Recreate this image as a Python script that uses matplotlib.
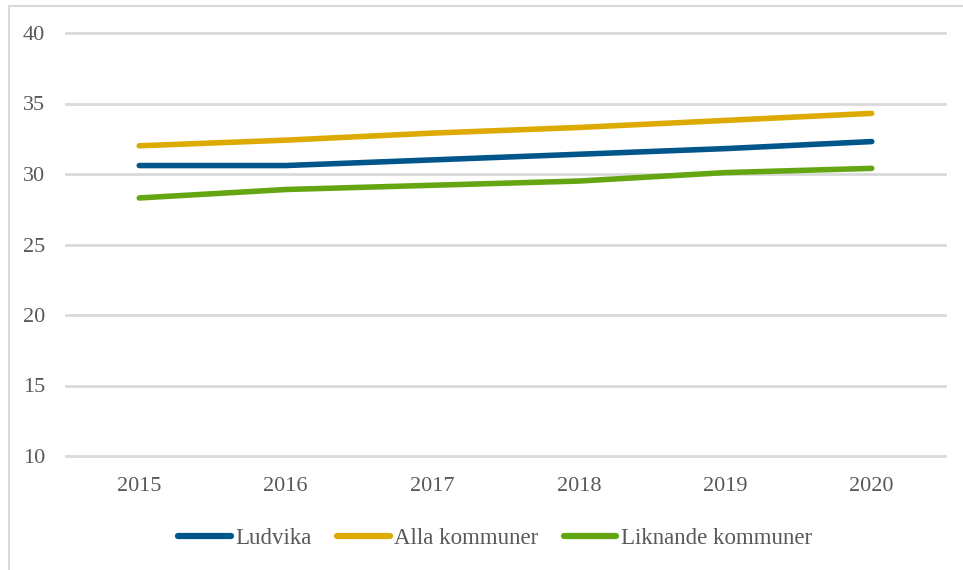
import matplotlib
matplotlib.use("Agg")
import matplotlib.pyplot as plt
from matplotlib.patches import Rectangle

years = ["2015", "2016", "2017", "2018", "2019", "2020"]
ludvika = [30.6, 30.6, 31.0, 31.4, 31.8, 32.3]
alla = [32.0, 32.4, 32.9, 33.3, 33.8, 34.3]
liknande = [28.3, 28.9, 29.2, 29.5, 30.1, 30.4]
series_names = ["Ludvika", "Alla kommuner", "Liknande kommuner"]
colors = ["#00558B", "#DCAA00", "#64A612"]
yticks = [10, 15, 20, 25, 30, 35, 40]

plt.rcParams['font.family'] = ['Liberation Serif', 'DejaVu Serif']

W, H = 963, 570
fig = plt.figure(figsize=(W / 100, H / 100), dpi=100)
ax = fig.add_axes([66 / W, 1 - 456 / H, (945 - 66) / W, (456 - 33) / H])

# outer frame of chart area
fig.patches.append(Rectangle((9 / W, -0.1), 1.2, 1 - 6 / H + 0.1, transform=fig.transFigure,
                             fill=False, edgecolor="#d9d9d9", linewidth=1.5))

x = list(range(len(years)))
for vals, name, c in zip([ludvika, alla, liknande], series_names, colors):
    ax.plot(x, vals, color=c, linewidth=4, solid_capstyle="round", label=name, zorder=3)

ax.set_xlim(-0.5, len(years) - 0.5)
ax.set_ylim(10, 40)
ax.set_yticks(yticks)
ax.set_xticks(x)
ax.set_xticklabels(years)
ax.yaxis.grid(True, color="#d9d9d9", linewidth=2)
for gl in ax.yaxis.get_gridlines():
    gl.set_clip_on(False)
ax.set_axisbelow(True)
for s in ax.spines.values():
    s.set_visible(False)
ax.tick_params(axis="both", length=0, labelsize=16, labelcolor="#595959")
ax.tick_params(axis="y", pad=15)
ax.tick_params(axis="x", pad=15)

leg = ax.legend(loc="center", bbox_to_anchor=(495 / W, 1 - 538 / H), bbox_transform=fig.transFigure,
                ncol=3, frameon=False, fontsize=16.5, handlelength=2.3, handletextpad=0.2,
                columnspacing=1.1)
for t in leg.get_texts():
    t.set_color("#595959")
for l in leg.get_lines():
    l.set_linewidth(4.5)

fig.savefig("out.png", dpi=100)
